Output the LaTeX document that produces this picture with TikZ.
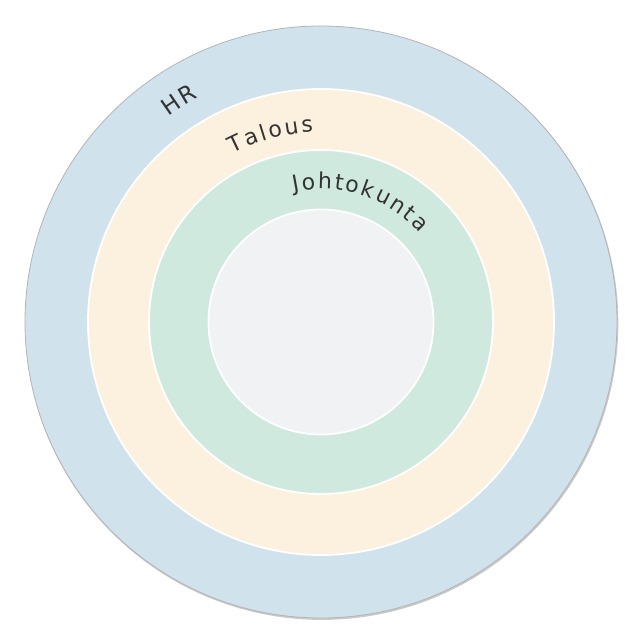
\documentclass[tikz,border=0pt]{standalone}
\usepackage{fontspec}
\setmainfont{DejaVu Sans}
\newfontfamily\hand{DejaVu Sans}
\usetikzlibrary{decorations.text}
\definecolor{ringblue}{HTML}{D0E2EC}
\definecolor{ringcream}{HTML}{FBF1DE}
\definecolor{ringgreen}{HTML}{CFE9DF}
\definecolor{ringcore}{HTML}{F0F2F4}
\definecolor{ringedge}{HTML}{B4B4B4}
\definecolor{labelink}{HTML}{333333}
\tikzset{
  ring/.style={draw=white, line width=1.8pt},
  arclabel/.style n args={3}{decorate, decoration={text effects along path,
      text={#3}, text align=center,
      text effects/.cd,
        character widths={inner xsep=#2, font=\hand\fontsize{#1}{#1}\selectfont},
        characters={text=labelink, inner sep=0pt, anchor=base, transform shape,
                    font=\hand\fontsize{#1}{#1}\selectfont}}},
}
\begin{document}
\begin{tikzpicture}[x=1pt,y=1pt]
\useasboundingbox (0,0) rectangle (643,643);
\coordinate (c) at (321,321);
% shadow and outer ring
\fill[ringedge!70] ([shift={(0.8pt,-1.4pt)}]c) circle[radius=296.5pt];
\filldraw[fill=ringblue, draw=ringedge, line width=0.8pt] (c) circle[radius=296pt];
\filldraw[ring, fill=ringcream] (c) circle[radius=233pt];
\filldraw[ring, fill=ringgreen] (c) circle[radius=172pt];
\filldraw[ring, fill=ringcore] (c) circle[radius=112.5pt];
% curved labels
\path[arclabel={23}{1pt}{HR}]
  ([shift={(152.6:256pt)}]c) arc[start angle=152.6, end angle=92.6, radius=256pt];
\path[arclabel={22}{1.2pt}{Talous}]
  ([shift={(135:190pt)}]c) arc[start angle=135, end angle=75, radius=190pt];
\path[arclabel={22}{1.1pt}{Johtokunta}]
  ([shift={(112:133pt)}]c) arc[start angle=112, end angle=32, radius=133pt];
\end{tikzpicture}
\end{document}
